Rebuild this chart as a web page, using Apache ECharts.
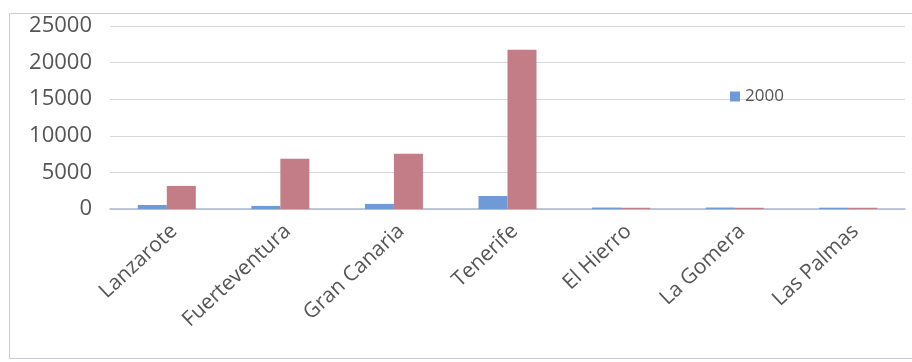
<!DOCTYPE html>
<html>
<head>
<meta charset="utf-8">
<script src="https://cdn.jsdelivr.net/npm/echarts@6/dist/echarts.min.js"></script>
<style>
  html, body { margin: 0; padding: 0; background: #fff; }
  #frame { position: absolute; left: 9px; top: 13px; width: 910px; height: 346px; border: 1px solid #c9ccd2; box-sizing: border-box; }
  #chart { position: absolute; left: 0; top: 0; width: 912px; height: 362px; }
</style>
</head>
<body>
<div id="frame"></div>
<div id="chart"></div>
<script>
// Islands and the two yearly series
const islands = ['Lanzarote', 'Fuerteventura', 'Gran Canaria', 'Tenerife', 'El Hierro', 'La Gomera', 'Las Palmas'];
const values2000 = [550, 420, 700, 1780, 200, 200, 180];
const valuesSerie2 = [3150, 6850, 7550, 21750, 170, 170, 170];
const yTicks = [0, 5000, 10000, 15000, 20000, 25000];

const chart = echarts.init(document.getElementById('chart'), null, { renderer: 'canvas' });
chart.setOption({
  animation: false,
  backgroundColor: 'transparent',
  grid: { left: 110, right: 7, top: 26, bottom: 153, containLabel: false },
  legend: {
    data: ['2000'],
    left: 725, top: 83,
    itemWidth: 10, itemHeight: 10, itemGap: 6,
    icon: 'rect',
    textStyle: { fontFamily: 'Open Sans', fontSize: 17, color: '#555' }
  },
  xAxis: {
    type: 'category',
    data: islands,
    axisLine: { lineStyle: { color: '#a9b6d3', width: 1.5 } },
    axisTick: { show: false },
    axisLabel: {
      rotate: 43, interval: 0, margin: 26,
      padding: [0, -10, 0, 0],
      fontFamily: 'Open Sans', fontSize: 21, color: '#555'
    }
  },
  yAxis: {
    type: 'value',
    min: yTicks[0], max: yTicks[yTicks.length - 1], interval: 5000,
    axisLine: { show: false },
    axisTick: { show: false },
    splitLine: { lineStyle: { color: '#d6d8dc', width: 1 } },
    axisLabel: {
      fontFamily: 'Open Sans', fontSize: 22, color: '#555', margin: 18,
      formatter: v => String(v)
    }
  },
  series: [
    { name: '2000', type: 'bar', data: values2000, barWidth: 29, barGap: '0%',
      itemStyle: { color: '#7099d8' } },
    { name: 'Serie 2', type: 'bar', data: valuesSerie2, barWidth: 29,
      itemStyle: { color: '#c27d86' } }
  ]
});
</script>
</body>
</html>
